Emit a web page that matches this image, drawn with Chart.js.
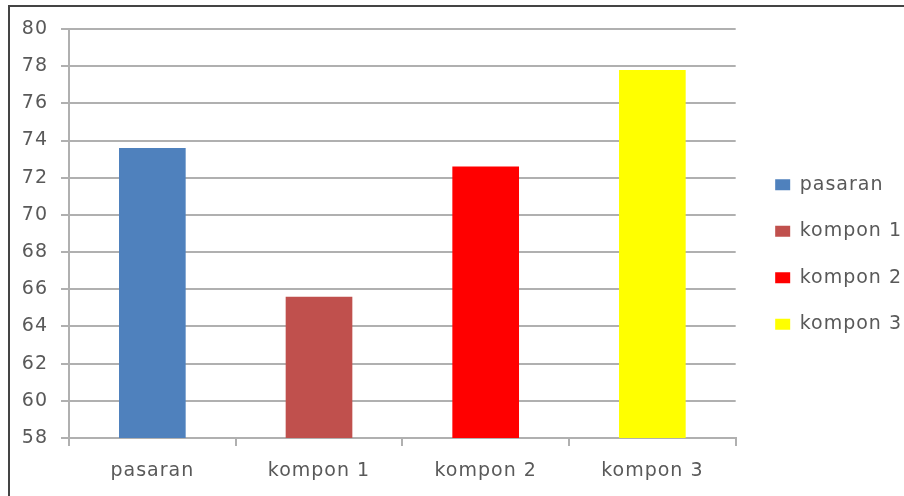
<!DOCTYPE html>
<html>
<head>
<meta charset="utf-8">
<title>pasaran vs kompon</title>
<script src="https://cdn.jsdelivr.net/npm/chart.js@4.4.0/dist/chart.umd.min.js"></script>
<style>
  html, body { margin: 0; padding: 0; background: #fff; overflow: hidden; }
  #frame {
    position: absolute; left: 8px; top: 5px;
    width: 1000px; height: 1000px;
    border: 2px solid #444;
  }
  #chart { position: absolute; left: 0; top: 0; }
</style>
</head>
<body>
<div id="frame"></div>
<canvas id="chart" width="904" height="496"></canvas>
<script>
// data
const categories = ['pasaran', 'kompon 1', 'kompon 2', 'kompon 3'];
const scores = [73.6, 65.6, 72.6, 77.8];
const barColors = ['#4f81bd', '#c0504d', '#ff0000', '#ffff00'];
const yTicks = [58, 60, 62, 64, 66, 68, 70, 72, 74, 76, 78, 80];

const textColor = '#595959';
const gridColor = '#b0b0b0';
const fontFamily = '"DejaVu Sans", Verdana, sans-serif';

// Excel text is spaced a bit wider than DejaVu
const wideText = {
    id: 'wideText',
    beforeUpdate(chart) { chart.ctx.letterSpacing = '1px'; },
    beforeDraw(chart) { chart.ctx.letterSpacing = '1px'; }
};

// nudge the legend so it sits where Excel put it
const legendShift = {
    id: 'legendShift',
    afterLayout(chart) {
        const lg = chart.legend;
        if (!lg) return;
        lg.left += 12; lg.right += 12;
        lg.top -= 8; lg.bottom -= 8;
    }
};

const ctx = document.getElementById('chart').getContext('2d');
new Chart(ctx, {
    type: 'bar',
    data: {
        labels: categories,
        datasets: [{
            label: 'nilai',
            data: scores,
            backgroundColor: barColors,
            borderWidth: 0,
            categoryPercentage: 1,
            barPercentage: 0.4
        }]
    },
    options: {
        responsive: false,
        animation: false,
        layout: { padding: { top: 29, left: 0, right: 4, bottom: 0 } },
        plugins: {
            tooltip: { enabled: false },
            legend: {
                position: 'right',
                labels: {
                    color: textColor,
                    font: { family: fontFamily, size: 19 },
                    boxWidth: 15,
                    boxHeight: 11,
                    padding: 27.5,
                    generateLabels(chart) {
                        const ds = chart.data.datasets[0];
                        return chart.data.labels.map((lab, i) => ({
                            text: lab,
                            fillStyle: ds.backgroundColor[i],
                            strokeStyle: ds.backgroundColor[i],
                            lineWidth: 0,
                            fontColor: textColor,
                            hidden: false,
                            index: i
                        }));
                    }
                }
            }
        },
        scales: {
            x: {
                grid: {
                    offset: true,
                    drawOnChartArea: false,
                    drawTicks: true,
                    tickLength: 8,
                    color: gridColor,
                    lineWidth: 2
                },
                border: { color: gridColor, width: 2 },
                ticks: {
                    color: textColor,
                    font: { family: fontFamily, size: 19 },
                    padding: 14,
                    maxRotation: 0
                },
                afterFit(scale) { scale.height = 58; }
            },
            y: {
                min: 58,
                max: 80,
                afterBuildTicks(scale) {
                    scale.ticks = yTicks.map(v => ({ value: v }));
                },
                grid: {
                    color: gridColor,
                    lineWidth: 2,
                    tickLength: 8
                },
                border: { color: gridColor, width: 2 },
                ticks: {
                    color: textColor,
                    font: { family: fontFamily, size: 19 },
                    padding: 13
                },
                afterFit(scale) { scale.width = 69; }
            }
        }
    },
    plugins: [wideText, legendShift]
});
</script>
</body>
</html>
